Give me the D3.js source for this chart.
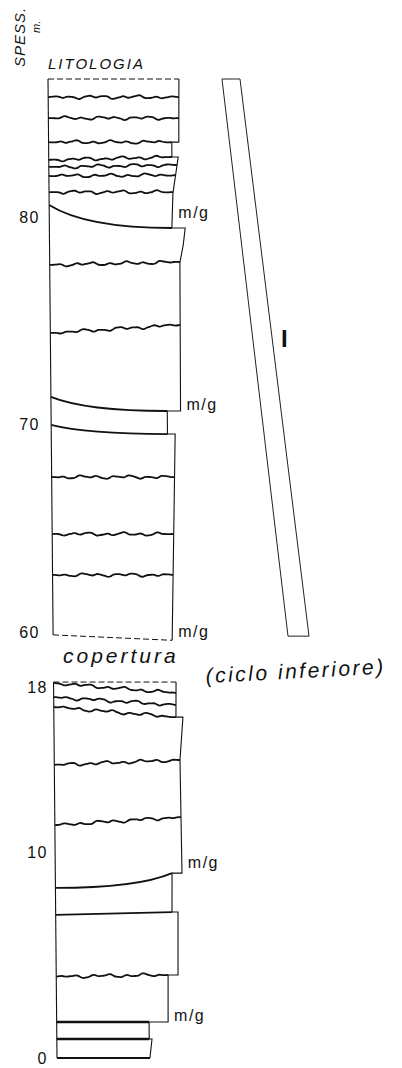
<!DOCTYPE html>
<html>
<head>
<meta charset="utf-8">
<script src="https://cdn.jsdelivr.net/npm/d3@7"></script>
<style>
body{margin:0;background:#fff}
text{font-family:"Liberation Sans",Arial,sans-serif;fill:#111}
.contact{fill:none;stroke:#111;stroke-width:1.8}
.edge{fill:none;stroke:#111;stroke-width:1.1}
.dash{fill:none;stroke:#111;stroke-width:1;stroke-dasharray:6,3}
.bar{fill:none;stroke:#222;stroke-width:1}
</style>
</head>
<body>
<div id="chart"></div>
<script>
// tick labels (metres)
var upperTicks = [80, 70, 60];
var lowerTicks = [18, 10, 0];

// right edge of the column = grain size (0-10 units), [metres, grain]
var upperProfile = [[86.65,9.35],[83.61,9.3],[83.61,8.8],[82.89,8.8],[82.89,9.25],[81.15,8.85],[79.47,8.75],
    [79.47,9.7],[78.65,9.55],[77.8,9.3],[70.65,9.25],[70.65,8.3],[69.54,8.3],[69.54,8.85],[59.6,8.5]];
var lowerProfile = [[18.24,8.75],[16.54,8.72],[16.54,9.22],[14.46,8.98],[8.97,9.05],[8.97,8.34],[7.08,8.31],
    [7.08,8.74],[4.03,8.7],[4.03,7.99],[1.75,7.96],[1.75,6.6],[0.92,6.6],[0.92,6.8],[0,6.64]];

// bed contacts: [kind, metres at left side, metres at right side]
var upperContacts = [["top",86.65,86.65],["wavy",85.78,85.78],["wavy",84.77,84.77],["wavy",83.61,83.61],
    ["wavy",82.75,82.89],["wavy",82.41,82.51],["wavy",81.98,82.02],["wavy",81.2,81.2],["curve",80.58,79.47],
    ["wavy",77.69,77.83],["wavy",74.41,74.8],["curve",71.33,70.65],["curve",69.98,69.54],["wavy",67.47,67.47],
    ["wavy",64.72,64.72],["wavy",62.75,62.75],["top",59.86,59.6]];
var lowerContacts = [["top",18.24,18.24],["wavy",18.19,17.71],["wavy",17.51,17.13],["wavy",17.03,16.54],
    ["wavy",14.22,14.46],["wavy",11.3,11.69],["curve",8.25,8.97],["flat",6.94,7.08],["wavy",3.95,4.03],
    ["thick",1.75,1.75],["thick",0.92,0.92],["flat",0,0]];

// m/g marks (metres)
var upperMG = [80.19, 70.94, 60.0];
var lowerMG = [9.47, 2.04];

// cycle bar (metres)
var cycleName = "I";
var cycleTop = 86.65, cycleBase = 59.8;

var width = 402, height = 1068;
var svg = d3.select('#chart').append('svg').attr('width', width).attr('height', height);

var yUpper = d3.scaleLinear().domain([80, 60]).range([217, 632]);
var yLower = d3.scaleLinear().domain([18, 0]).range([687, 1058]);
var gx = d3.scaleLinear().domain([0, 10]).range([0, 140]);
var leftX = d3.scaleLinear().domain([79, 1058]).range([48, 57]); // column drawn slightly skewed

function xAt(g, y) { return leftX(y) + gx(g); }

// narrowest grain at a depth
function grainAt(profile, m) {
    var best = null;
    for (var i = 0; i < profile.length - 1; i++) {
        var a = profile[i], b = profile[i + 1];
        if (m <= a[0] + 1e-6 && m >= b[0] - 1e-6) {
            var g = a[0] === b[0] ? Math.min(a[1], b[1]) : a[1] + (b[1] - a[1]) * (a[0] - m) / (a[0] - b[0]);
            if (best === null || g < best) best = g;
        }
    }
    return best;
}

// hand-drawn looking wavy contact
function wavy(x0, y0, x1, y1, seed) {
    var pts = [];
    for (var x = x0; x < x1; x += 2) {
        var t = (x - x0) / (x1 - x0);
        var w = 1.1 * Math.sin(x / 2.7 + seed) + 0.8 * Math.sin(x / 6.3 + seed * 2.3) + 0.4 * Math.sin(x / 1.3 + seed);
        pts.push([x, y0 + (y1 - y0) * t + w * Math.min(1, t * 8, (1 - t) * 8)]);
    }
    pts.push([x1, y1]);
    return d3.line().curve(d3.curveBasis)(pts);
}

function drawSection(y, profile, contacts, ticks, mg, axisX) {
    var g = svg.append('g');
    var topLeftM = contacts[0][1], baseLeftM = contacts[contacts.length - 1][1];

    // left edge
    g.append('line').attr('class', 'edge')
        .attr('x1', leftX(y(topLeftM))).attr('y1', y(topLeftM))
        .attr('x2', leftX(y(baseLeftM))).attr('y2', y(baseLeftM));

    // right edge (grain size profile)
    g.append('path').attr('class', 'edge')
        .attr('d', d3.line()(profile.map(function(d) { return [xAt(d[1], y(d[0])), y(d[0])]; })));

    contacts.forEach(function(c, i) {
        var yl = y(c[1]), yr = y(c[2]);
        var x0 = leftX(yl), x1 = xAt(grainAt(profile, c[2]), yr);
        var p = g.append('path');
        if (c[0] === 'wavy') {
            p.attr('class', 'contact').attr('d', wavy(x0, yl, x1, yr, i * 1.7 + y(c[1]) / 50));
        } else if (c[0] === 'curve') {
            var hiLeft = yl < yr;
            var cx = hiLeft ? x0 + (x1 - x0) * 0.3 : x0 + (x1 - x0) * 0.7;
            var cy = Math.max(yl, yr);
            p.attr('class', 'contact').attr('d', 'M' + x0 + ',' + yl + 'Q' + cx + ',' + cy + ' ' + x1 + ',' + yr);
        } else if (c[0] === 'top') {
            p.attr('class', 'dash').attr('d', d3.line()([[x0, yl], [x1, yr]]));
        } else {
            p.attr('class', 'contact').style('stroke-width', c[0] === 'thick' ? 2.6 : 1.8)
                .attr('d', d3.line()([[x0, yl], [x1, yr]]));
        }
    });

    // depth labels
    var ax = g.append('g').attr('transform', 'translate(' + axisX + ',0)')
        .call(d3.axisLeft(y).tickValues(ticks).tickSize(0).tickPadding(0));
    ax.select('.domain').remove();
    ax.selectAll('text').style('font-family', '"Liberation Sans",Arial,sans-serif')
        .style('font-size', '16px').style('letter-spacing', '1.5px').attr('fill', '#111');

    g.selectAll('.mg').data(mg).enter().append('text')
        .attr('class', 'mg')
        .attr('x', function(d) { return xAt(grainAt(profile, d), y(d)) + 6; })
        .attr('y', function(d) { return y(d) + 5; })
        .style('font-size', '16px').style('letter-spacing', '1.5px')
        .text('m/g');
}

drawSection(yUpper, upperProfile, upperContacts, upperTicks, upperMG, 40);
drawSection(yLower, lowerProfile, lowerContacts, lowerTicks, lowerMG, 48);

// cycle bar
var yt = yUpper(cycleTop), yb = yUpper(cycleBase);
svg.append('path').attr('class', 'bar')
    .attr('d', d3.line()([[222, yt], [240, yt], [309, yb], [288, yb]]) + 'Z');
svg.append('text').attr('x', 281).attr('y', 347)
    .style('font-size', '24px').style('font-weight', 'bold').text(cycleName);

// titles
svg.append('text').attr('transform', 'translate(25,67) rotate(-90)')
    .style('font-style', 'italic').style('font-size', '15px').style('letter-spacing', '1px').text('SPESS.');
svg.append('text').attr('transform', 'translate(40,33) rotate(-90)')
    .style('font-style', 'italic').style('font-size', '11px').text('m.');
svg.append('text').attr('x', 48).attr('y', 69)
    .style('font-style', 'italic').style('font-size', '15px').style('letter-spacing', '2px').text('LITOLOGIA');
svg.append('text').attr('x', 63).attr('y', 663)
    .style('font-style', 'italic').style('font-size', '21px').style('letter-spacing', '3px').text('copertura');
svg.append('text').attr('transform', 'translate(206,683) rotate(-3)')
    .style('font-style', 'italic').style('font-size', '21px').style('letter-spacing', '2.5px').text('(ciclo inferiore)');
</script>
</body>
</html>
